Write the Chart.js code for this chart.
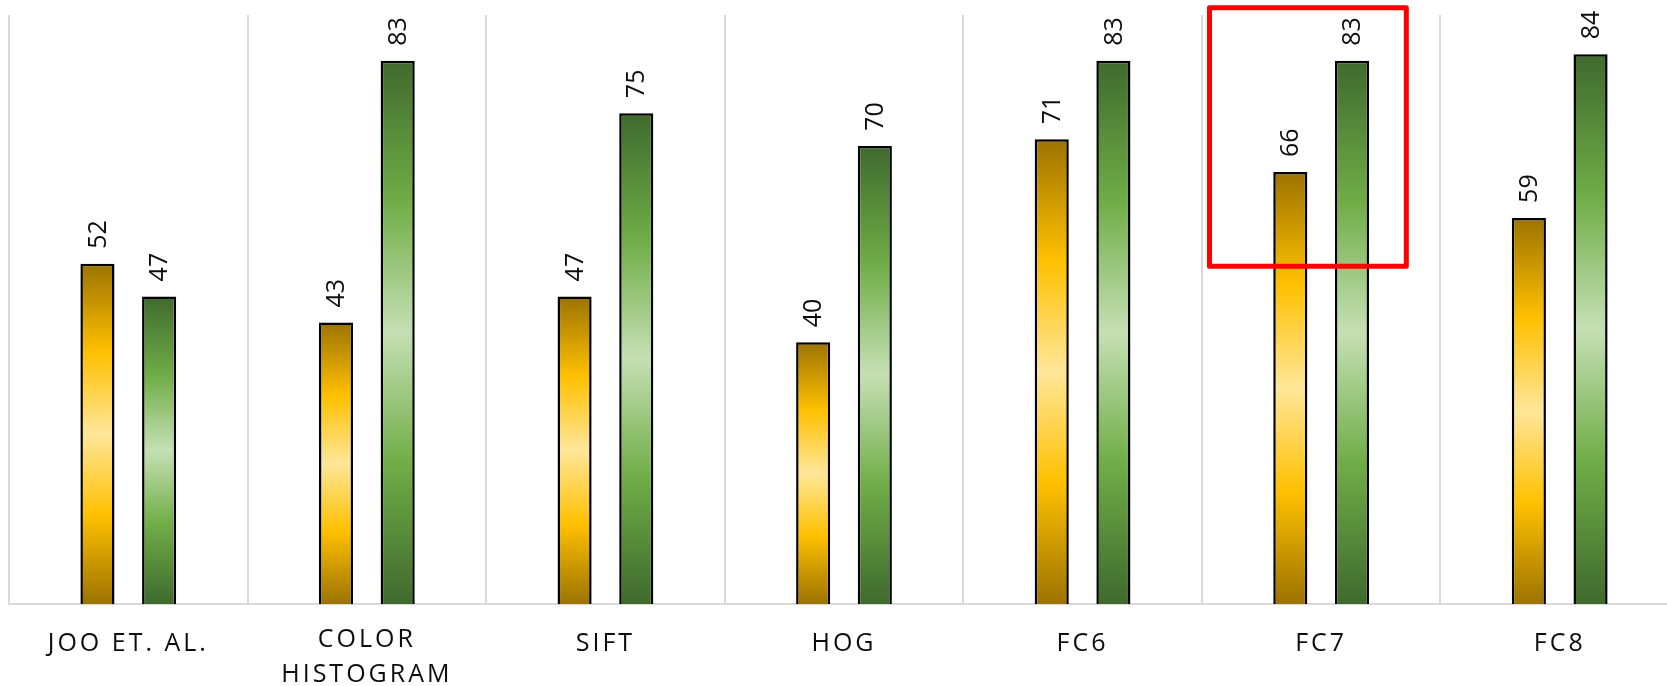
<!DOCTYPE html>
<html>
<head>
<meta charset="utf-8">
<script src="https://cdn.jsdelivr.net/npm/chart.js@4/dist/chart.umd.min.js"></script>
<style>
  html, body { margin: 0; padding: 0; background: #fff; overflow: hidden; }
  /* the plot runs a little past the right edge of the window */
  #wrap { width: 1679px; height: 686px; position: relative; }
</style>
</head>
<body>
<div id="wrap"><canvas id="c"></canvas></div>
<script>
// Methods compared, and the two accuracy series per method
const categories = ['JOO ET. AL.', ['COLOR', 'HISTOGRAM'], 'SIFT', 'HOG', 'FC6', 'FC7', 'FC8'];
const goldSeries = [52, 43, 47, 40, 71, 66, 59];
const greenSeries = [47, 83, 75, 70, 83, 83, 84];
const axisMin = 0;
const axisMax = 90;

// Highlighted region around the FC7 group (category index, offsets in category widths, value range)
const highlightCategory = 5;
const highlightLeft = -0.468;
const highlightRight = 0.357;
const highlightTop = 91.1;
const highlightBottom = 51.6;

function barGradient(stops) {
  return function (ctx) {
    const chart = ctx.chart;
    if (!chart.chartArea || ctx.raw === undefined) return stops[2];
    const y = chart.scales.y;
    const top = y.getPixelForValue(ctx.raw);
    const bottom = y.getPixelForValue(0);
    const g = chart.ctx.createLinearGradient(0, top, 0, bottom);
    g.addColorStop(0, stops[0]);
    g.addColorStop(0.26, stops[1]);
    g.addColorStop(0.5, stops[2]);
    g.addColorStop(0.74, stops[1]);
    g.addColorStop(1, stops[0]);
    return g;
  };
}

const valueLabels = {
  id: 'valueLabels',
  beforeDraw(chart) {
    chart.ctx.letterSpacing = '3px';
  },
  afterDatasetsDraw(chart) {
    const ctx = chart.ctx;
    ctx.save();
    ctx.letterSpacing = '0px';
    ctx.font = '25px "Open Sans"';
    ctx.fillStyle = '#0d0d0d';
    ctx.textAlign = 'left';
    ctx.textBaseline = 'middle';
    chart.data.datasets.forEach((ds, di) => {
      chart.getDatasetMeta(di).data.forEach((bar, i) => {
        ctx.save();
        ctx.translate(bar.x + 1, bar.y - 15);
        ctx.rotate(-Math.PI / 2);
        ctx.fillText(String(ds.data[i]), 0, 0);
        ctx.restore();
      });
    });
    // highlight frame
    const xs = chart.scales.x, ys = chart.scales.y;
    const cw = xs.getPixelForValue(1) - xs.getPixelForValue(0);
    const cx = xs.getPixelForValue(highlightCategory);
    const x0 = cx + highlightLeft * cw;
    const x1 = cx + highlightRight * cw;
    const y0 = ys.getPixelForValue(highlightTop);
    const y1 = ys.getPixelForValue(highlightBottom);
    ctx.strokeStyle = '#ff0000';
    ctx.lineWidth = 5;
    ctx.lineJoin = 'round';
    ctx.strokeRect(x0, y0, x1 - x0, y1 - y0);
    ctx.restore();
  }
};

new Chart(document.getElementById('c'), {
  type: 'bar',
  data: {
    labels: categories,
    datasets: [
      {
        data: goldSeries,
        backgroundColor: barGradient(['#9c7300', '#ffc000', '#ffe699']),
        borderColor: '#000000',
        borderWidth: 2.5,
        categoryPercentage: 0.517,
        barPercentage: 0.553
      },
      {
        data: greenSeries,
        backgroundColor: barGradient(['#3f6a2d', '#70ad47', '#c5e0b4']),
        borderColor: '#000000',
        borderWidth: 2.5,
        categoryPercentage: 0.517,
        barPercentage: 0.553
      }
    ]
  },
  options: {
    responsive: true,
    maintainAspectRatio: false,
    animation: false,
    layout: { padding: { left: 9, right: 0, top: 15, bottom: 0 } },
    plugins: { legend: { display: false }, tooltip: { enabled: false } },
    scales: {
      x: {
        grid: { color: '#d9d9d9', lineWidth: 2, drawTicks: false, offset: true },
        border: { color: '#d9d9d9', width: 2 },
        ticks: {
          color: '#0d0d0d',
          // two-line labels sit a little higher, with tighter line spacing
          font: (c) => ({
            family: '"Open Sans"',
            size: 25,
            lineHeight: Array.isArray(categories[c.index]) ? 1.4 : 1.76
          }),
          padding: 18,
          maxRotation: 0,
          autoSkip: false
        },
        afterFit(scale) { scale.height = 82; }
      },
      y: {
        display: false,
        min: axisMin,
        max: axisMax
      }
    }
  },
  plugins: [valueLabels]
});
</script>
</body>
</html>
